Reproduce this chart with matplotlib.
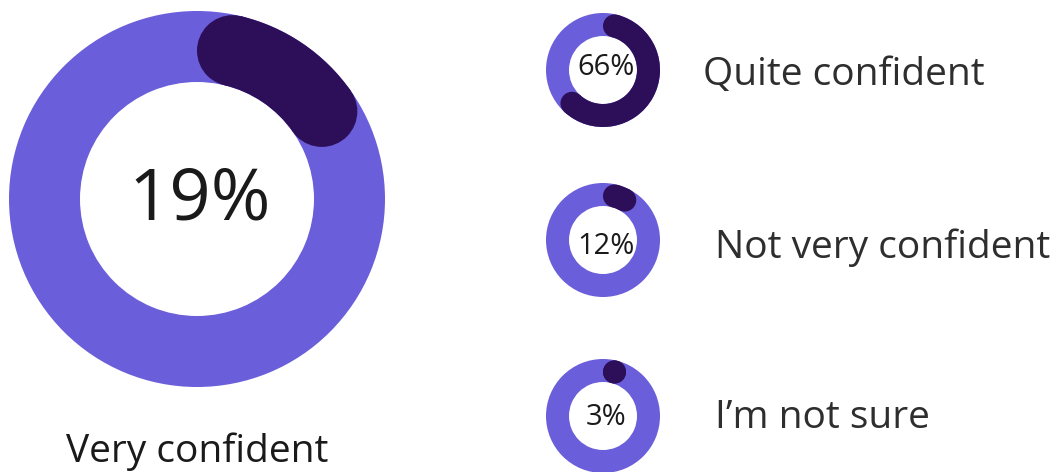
import numpy as np
import matplotlib.pyplot as plt
from matplotlib.patches import Wedge, Circle

# Survey answers: share of respondents per confidence level
labels = ['Very confident', 'Quite confident', 'Not very confident', 'I\u2019m not sure']
values = [19, 66, 12, 3]

LIGHT = '#6A5EDA'
DARK = '#2D0E58'
FONT = ['Open Sans', 'DejaVu Sans']

fig = plt.figure(figsize=(10.62, 4.72), dpi=100)
ax = fig.add_axes([0, 0, 1, 1])
ax.set_xlim(0, 1062)
ax.set_ylim(472, 0)
ax.set_aspect('equal')
ax.axis('off')


def donut(cx, cy, r_out, r_in, pct):
    w = r_out - r_in
    rm = (r_out + r_in) / 2
    # background ring
    ax.add_patch(Wedge((cx, cy), r_out, 0, 360, width=w, color=LIGHT, lw=0))
    # value arc, clockwise from 12 o'clock, with rounded ends kept inside the span
    span = pct / 100 * 360
    cap = np.degrees(np.arcsin((w / 2) / rm))
    a1 = cap
    a2 = max(a1, span - cap)
    if a2 > a1:
        # y axis is inverted, so clockwise on screen is counter-clockwise in data
        ax.add_patch(Wedge((cx, cy), r_out, a1 - 90, a2 - 90, width=w, color=DARK, lw=0))
    for a in (a1, a2):
        t = np.radians(a - 90)
        ax.add_patch(Circle((cx + rm * np.cos(t), cy + rm * np.sin(t)), w / 2, color=DARK, lw=0))


# big donut
donut(197, 199, 188, 117, values[0])
ax.text(200, 220, f'{values[0]}%', ha='center', va='baseline', fontsize=52,
        color='#1a1a1a', family=FONT)
ax.text(197, 462, labels[0], ha='center', va='baseline', fontsize=28,
        color='#1a1a1a', family=FONT, weight='medium')

# small donuts with labels
centers_y = [70, 240, 416]
pct_base = [75, 254, 425]
label_x = [703, 715, 715]
label_base = [85, 258, 428]
for cy, pb, lx, lb, lab, v in zip(centers_y, pct_base, label_x, label_base,
                                   labels[1:], values[1:]):
    donut(603, cy, 57, 34, v)
    ax.text(606, pb, f'{v}%', ha='center', va='baseline', fontsize=21,
            color='#1a1a1a', family=FONT)
    ax.text(lx, lb, lab, ha='left', va='baseline', fontsize=28,
            color='#2e2e2e', family=FONT, weight='medium')

fig.savefig('out.png', dpi=100, facecolor='white')
